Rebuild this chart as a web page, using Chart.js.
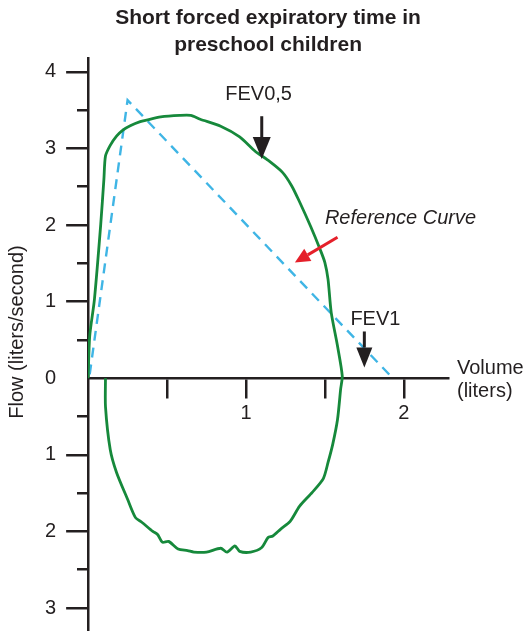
<!DOCTYPE html>
<html>
<head>
<meta charset="utf-8">
<script src="https://cdn.jsdelivr.net/npm/chart.js@4/dist/chart.umd.min.js"></script>
<style>
  html, body { margin: 0; padding: 0; background: #fff; overflow: hidden; }
  #wrap { width: 524px; height: 631px; }
</style>
</head>
<body>
<div id="wrap"><canvas id="loop-chart"></canvas></div>
<script>
// flow-volume loop: volume in liters, flow in liters/second
// (inspiration is negative and drawn under the volume axis)
const loopVolume = [0, 0.01, 0.04, 0.08, 0.10, 0.11, 0.14, 0.18, 0.22, 0.27,
  0.33, 0.37, 0.46, 0.58, 0.65, 0.71, 0.84, 0.96, 1.06, 1.13,
  1.23, 1.29, 1.34, 1.41, 1.47, 1.50, 1.52, 1.54, 1.58, 1.61,
  1.60, 1.58, 1.55, 1.52, 1.49, 1.42, 1.34, 1.28, 1.22, 1.17,
  1.14, 1.10, 1.03, 0.96, 0.93, 0.88, 0.84, 0.75, 0.67, 0.63,
  0.57, 0.51, 0.47, 0.44, 0.41, 0.34, 0.30, 0.25, 0.18, 0.14,
  0.11, 0.11];
const loopFlow = [0, 0.55, 1.03, 2.01, 2.60, 2.90, 3.04, 3.16, 3.24, 3.30,
  3.35, 3.37, 3.41, 3.43, 3.43, 3.38, 3.29, 3.15, 2.96, 2.86,
  2.69, 2.51, 2.30, 1.98, 1.68, 1.51, 1.29, 0.86, 0.42, 0.03,
  -0.14, -0.54, -0.86, -1.10, -1.31, -1.49, -1.67, -1.87, -1.97, -2.06,
  -2.08, -2.21, -2.27, -2.26, -2.19, -2.27, -2.22, -2.27, -2.27, -2.25,
  -2.23, -2.13, -2.14, -2.04, -2.00, -1.88, -1.82, -1.58, -1.23, -0.93,
  -0.37, 0];

// dashed reference curve
const refVolume = [0.01, 0.25, 1.93];
const refFlow = [0.05, 3.63, 0];

const volumeLabels = [1, 2];

const ink = '#231f20';
const green = '#16893b';
const blue = '#3fb5e5';
const red = '#e5202a';

// arrows and notes, in data units
const notes = [
  { text: 'FEV0,5', x: 1.08, y: 3.71 },
  { text: 'FEV1', x: 1.82, y: 0.77 }
];
const arrows = [
  { from: [1.10, 3.42], to: [1.10, 2.86], color: ink, head: 22, half: 9 },
  { from: [1.75, 0.61], to: [1.75, 0.14], color: ink, head: 20, half: 8 },
  { from: [1.58, 1.84], to: [1.31, 1.51], color: red, head: 15, half: 7 }
];

const pts = (xs, ys) => xs.map((x, i) => ({ x: x, y: ys[i] }));

function noPad(scale) {
  scale.paddingTop = 0; scale.paddingBottom = 0;
  scale.paddingLeft = 0; scale.paddingRight = 0;
}

const extras = {
  id: 'extras',
  afterDraw(chart) {
    const ctx = chart.ctx, xs = chart.scales.x, ys = chart.scales.y;
    ctx.save();
    ctx.fillStyle = ink;
    ctx.textBaseline = 'middle';
    ctx.textAlign = 'center';
    ctx.font = '20px "Liberation Sans", Arial, sans-serif';
    notes.forEach(n => {
      ctx.fillText(n.text, xs.getPixelForValue(n.x), ys.getPixelForValue(n.y));
    });
    ctx.textAlign = 'left';
    ctx.font = 'italic 20px "Liberation Sans", Arial, sans-serif';
    ctx.fillText('Reference Curve', xs.getPixelForValue(1.50), ys.getPixelForValue(2.08));

    arrows.forEach(a => {
      const x1 = xs.getPixelForValue(a.from[0]), y1 = ys.getPixelForValue(a.from[1]);
      const x2 = xs.getPixelForValue(a.to[0]), y2 = ys.getPixelForValue(a.to[1]);
      const ang = Math.atan2(y2 - y1, x2 - x1);
      const bx = x2 - Math.cos(ang) * a.head, by = y2 - Math.sin(ang) * a.head;
      ctx.strokeStyle = a.color;
      ctx.fillStyle = a.color;
      ctx.lineWidth = 3;
      ctx.beginPath();
      ctx.moveTo(x1, y1);
      ctx.lineTo(bx, by);
      ctx.stroke();
      ctx.beginPath();
      ctx.moveTo(x2, y2);
      ctx.lineTo(bx + Math.sin(ang) * a.half, by - Math.cos(ang) * a.half);
      ctx.lineTo(bx - Math.sin(ang) * a.half, by + Math.cos(ang) * a.half);
      ctx.closePath();
      ctx.fill();
    });

    // axis titles
    ctx.fillStyle = ink;
    ctx.font = '20px "Liberation Sans", Arial, sans-serif';
    ctx.textAlign = 'left';
    ctx.textBaseline = 'alphabetic';
    ctx.fillText('Volume', chart.chartArea.right + 9, 374);
    ctx.fillText('(liters)', chart.chartArea.right + 9, 397);
    ctx.translate(17, 332);
    ctx.rotate(-Math.PI / 2);
    ctx.textAlign = 'center';
    ctx.textBaseline = 'middle';
    ctx.fillText('Flow (liters/second)', 0, 0);
    ctx.restore();
  }
};

new Chart(document.getElementById('loop-chart'), {
  type: 'scatter',
  data: {
    datasets: [
      {
        label: 'Measured',
        data: pts(loopVolume, loopFlow),
        showLine: true,
        borderColor: green,
        borderWidth: 2.8,
        pointRadius: 0,
        tension: 0.25,
        fill: false
      },
      {
        label: 'Reference Curve',
        data: pts(refVolume, refFlow),
        showLine: true,
        borderColor: blue,
        borderWidth: 2.4,
        borderDash: [10, 7],
        pointRadius: 0,
        tension: 0,
        fill: false
      }
    ]
  },
  options: {
    responsive: true,
    maintainAspectRatio: false,
    animation: false,
    layout: { padding: { left: 35, right: 76, top: 0, bottom: 0 } },
    plugins: {
      legend: { display: false },
      tooltip: { enabled: false },
      title: {
        display: true,
        fullSize: false,
        text: ['Short forced expiratory time in', 'preschool children'],
        color: ink,
        font: { family: '"Liberation Sans", Arial, sans-serif', size: 21, weight: 'bold', lineHeight: 1.25 },
        padding: { top: 5.5, bottom: 0 }
      }
    },
    scales: {
      x: {
        type: 'linear',
        position: { y: 0 },
        min: 0,
        max: 2.28,
        afterFit: noPad,
        border: { display: true, color: ink, width: 2.5 },
        grid: {
          drawOnChartArea: false,
          drawTicks: true,
          tickLength: 19,
          lineWidth: 2.5,
          color: c => c.tick && c.tick.value === 0 ? 'rgba(0,0,0,0)' : ink
        },
        ticks: {
          stepSize: 0.5,
          includeBounds: false,
          autoSkip: false,
          maxRotation: 0,
          padding: 4,
          color: ink,
          font: { family: '"Liberation Sans", Arial, sans-serif', size: 20 },
          callback: v => volumeLabels.includes(v) ? String(v) : ''
        }
      },
      y: {
        type: 'linear',
        position: 'left',
        min: -3.3,
        max: 4.18,
        afterFit: noPad,
        border: { display: true, color: ink, width: 2.5 },
        grid: {
          drawOnChartArea: false,
          drawTicks: true,
          tickLength: 22,
          lineWidth: 2.5,
          color: c => c.tick && c.tick.value === 0 ? 'rgba(0,0,0,0)' : ink
        },
        ticks: {
          stepSize: 1,
          includeBounds: false,
          autoSkip: false,
          padding: 10,
          color: ink,
          font: { family: '"Liberation Sans", Arial, sans-serif', size: 20 },
          callback: v => String(Math.abs(v))
        }
      },
      yMinor: {
        type: 'linear',
        position: { x: 0 },
        min: -3.3,
        max: 4.18,
        afterFit: noPad,
        border: { display: false },
        grid: {
          drawOnChartArea: false,
          drawTicks: true,
          tickLength: 11,
          lineWidth: 2.5,
          color: c => c.tick && Number.isInteger(c.tick.value) ? 'rgba(0,0,0,0)' : ink
        },
        ticks: { stepSize: 0.5, includeBounds: false, display: false }
      }
    }
  },
  plugins: [extras]
});
</script>
</body>
</html>
